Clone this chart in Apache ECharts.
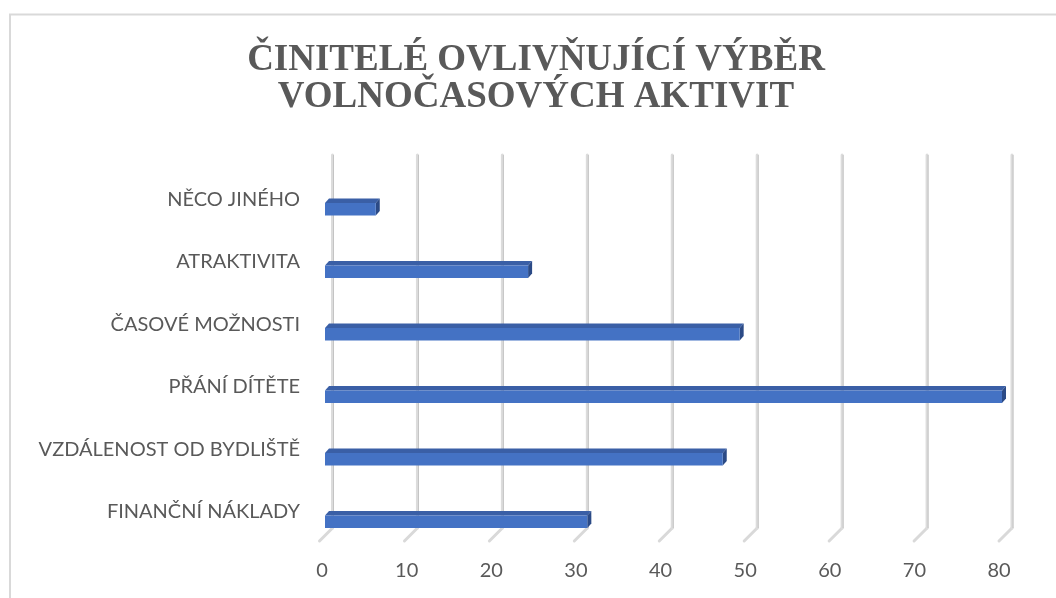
<!DOCTYPE html>
<html>
<head>
<meta charset="utf-8">
<script src="https://cdn.jsdelivr.net/npm/echarts/dist/echarts.min.js"></script>
<style>
html,body{margin:0;padding:0;background:#ffffff;}
#chart{width:1056px;height:598px;}
</style>
</head>
<body>
<div id="chart"></div>
<script>
// ---- data ----
const categories = ['FINANČNÍ NÁKLADY', 'VZDÁLENOST OD BYDLIŠTĚ', 'PŘÁNÍ DÍTĚTE', 'ČASOVÉ MOŽNOSTI', 'ATRAKTIVITA', 'NĚCO JINÉHO'];
const values = [31, 47, 80, 49, 24, 6];
const tickValues = [0, 10, 20, 30, 40, 50, 60, 70, 80];
const titleLines = ['ČINITELÉ OVLIVŇUJÍCÍ VÝBĚR', 'VOLNOČASOVÝCH AKTIVIT'];

// ---- style ----
const TEXT = '#595959';
const depthX = 4, depthY = 4.5, barH = 12.5;

const chart = echarts.init(document.getElementById('chart'), null, {renderer: 'canvas'});

const option = {
  backgroundColor: '#ffffff',
  animation: false,
  graphic: [
    {type: 'rect', shape: {x: 10, y: 14.5, width: 1200, height: 800}, style: {fill: 'none', stroke: '#d9d9d9', lineWidth: 2}, silent: true},
    {type: 'text', x: 536, y: 42.5, style: {
      text: titleLines.join('\n'), align: 'center', verticalAlign: 'top',
      fontFamily: 'Liberation Serif', fontWeight: 'bold', fontSize: 37, lineHeight: 36.5, fill: TEXT
    }}
  ],
  grid: [
    {left: 332.5, right: 44, top: 155, bottom: 70, containLabel: false},
    {left: 325, right: 54, top: 178, bottom: 45, containLabel: false}
  ],
  xAxis: [
    {gridIndex: 0, type: 'value', min: 0, max: 80, interval: 10, show: false},
    {gridIndex: 1, type: 'value', min: 0, max: 80, interval: 10,
      axisLine: {show: false}, axisTick: {show: false}, splitLine: {show: false},
      axisLabel: {show: true, color: TEXT, fontFamily: 'Lato', fontSize: 20, margin: 8, padding: [0, 6, 0, 0]}}
  ],
  yAxis: [
    {gridIndex: 0, type: 'value', min: 0, max: 1, show: false},
    {gridIndex: 1, type: 'category', data: categories,
      axisLine: {show: false}, axisTick: {show: false}, splitLine: {show: false},
      axisLabel: {color: TEXT, fontFamily: 'Lato', fontSize: 20, margin: 25, verticalAlign: 'bottom', lineHeight: 20}}
  ],
  series: [
    {
      type: 'custom', xAxisIndex: 0, yAxisIndex: 0, silent: true,
      data: tickValues.map(v => [v]),
      renderItem: function (params, api) {
        const x = api.coord([api.value(0), 0])[0];
        const cs = params.coordSys;
        const top = cs.y, bot = cs.y + cs.height;
        return {type: 'group', children: [
          {type: 'polyline', shape: {points: [[x, bot], [x - 13, bot + 13]]}, style: {stroke: '#d9d9d9', lineWidth: 3, lineCap: 'round', fill: null}},
          {type: 'line', shape: {x1: x, y1: top, x2: x, y2: bot}, style: {stroke: '#dcdcdc', lineWidth: 3, lineCap: 'round'}},
          {type: 'line', shape: {x1: x + 1, y1: top, x2: x + 1, y2: bot}, style: {stroke: '#c4c4c4', lineWidth: 1}}
        ]};
      }
    },
    {
      type: 'custom', xAxisIndex: 1, yAxisIndex: 1,
      data: values.map((v, i) => [v, i]),
      renderItem: function (params, api) {
        const v = api.value(0), c = api.value(1);
        const end = api.coord([v, c]);
        const start = api.coord([0, c]);
        const x0 = start[0], x1 = end[0], yc = end[1];
        const yt = yc - barH / 2, yb = yc + barH / 2;
        return {type: 'group', children: [
          {type: 'polygon', shape: {points: [[x0, yt], [x0 + depthX, yt - depthY], [x1 + depthX, yt - depthY], [x1, yt]]}, style: {fill: '#3a5fa6'}},
          {type: 'polygon', shape: {points: [[x1, yt], [x1 + depthX, yt - depthY], [x1 + depthX, yb - depthY], [x1, yb]]}, style: {fill: '#2b4a86'}},
          {type: 'rect', shape: {x: x0, y: yt, width: x1 - x0, height: barH}, style: {fill: '#4472C4'}}
        ]};
      }
    }
  ]
};
chart.setOption(option);
</script>
</body>
</html>
